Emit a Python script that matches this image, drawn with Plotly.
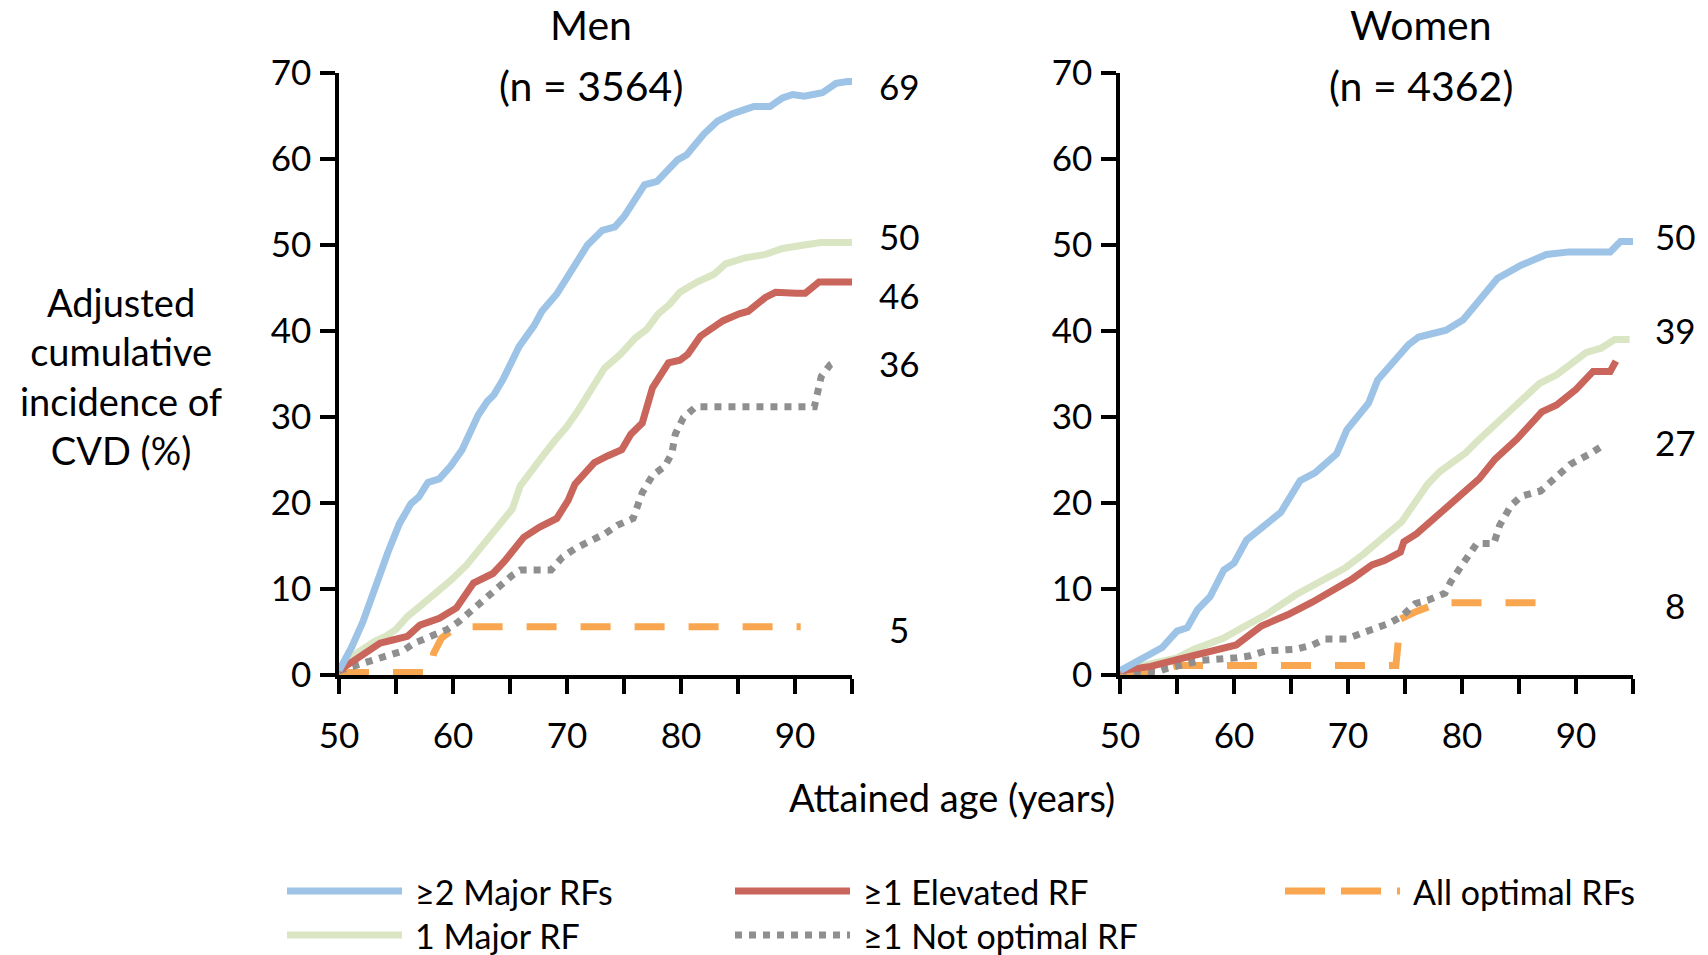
import plotly.graph_objects as go

# ---------------- data ----------------
series_names = ["≥2 Major RFs", "1 Major RF", "≥1 Elevated RF", "≥1 Not optimal RF", "All optimal RFs"]

men_blue_x = [50.0, 51.1, 52.1, 53.1, 54.3, 55.3, 56.3, 57.0, 57.8, 58.8, 59.8, 60.8, 61.5, 62.2, 63.0, 63.6, 64.4, 65.1, 65.8, 67.1, 67.8, 69.1, 70.3, 71.8, 73.1, 74.2, 75.0, 76.0, 76.8, 77.9, 78.5, 79.7, 80.5, 82.0, 83.2, 84.4, 85.7, 86.4, 87.8, 88.9, 89.8, 90.8, 92.4, 93.6, 94.6, 95.0]
men_blue_y = [0.5, 3.2, 6.2, 10.1, 14.3, 17.6, 19.9, 20.7, 22.4, 22.8, 24.3, 26.2, 28.2, 30.2, 31.8, 32.6, 34.4, 36.3, 38.2, 40.6, 42.3, 44.3, 46.8, 50.0, 51.7, 52.1, 53.3, 55.2, 57.0, 57.4, 58.2, 59.9, 60.5, 62.9, 64.4, 65.2, 65.8, 66.1, 66.1, 67.1, 67.5, 67.3, 67.7, 68.8, 69.0, 69.0]

men_green_x = [50.0, 51.4, 53.1, 54.1, 55.0, 56.0, 57.1, 58.5, 59.8, 61.2, 62.5, 63.9, 65.2, 65.9, 67.2, 67.9, 68.9, 70.0, 71.0, 72.0, 73.3, 74.7, 76.0, 77.0, 78.0, 79.0, 79.9, 81.4, 82.9, 83.9, 85.6, 87.4, 88.9, 90.8, 92.3, 95.0]
men_green_y = [0.5, 2.4, 3.9, 4.5, 5.3, 6.8, 8.0, 9.5, 11.0, 12.8, 14.9, 17.0, 19.3, 22.0, 24.1, 25.5, 27.2, 28.9, 30.8, 32.8, 35.7, 37.3, 39.2, 40.2, 42.0, 43.1, 44.5, 45.7, 46.6, 47.8, 48.5, 48.9, 49.6, 50.0, 50.3, 50.3]

men_red_x = [50.0, 51.8, 53.6, 54.8, 56.0, 57.1, 58.2, 58.8, 60.3, 61.2, 61.8, 63.5, 64.5, 66.2, 67.6, 69.1, 70.1, 70.7, 72.4, 73.6, 74.8, 75.6, 76.6, 77.5, 78.2, 78.9, 79.9, 80.6, 81.7, 82.6, 83.7, 85.1, 85.9, 87.4, 88.3, 90.1, 90.9, 92.1, 95.0]
men_red_y = [0.5, 2.2, 3.7, 4.1, 4.5, 5.8, 6.4, 6.6, 7.8, 9.7, 10.7, 11.8, 13.2, 16.0, 17.2, 18.2, 20.3, 22.2, 24.7, 25.5, 26.2, 28.0, 29.3, 33.4, 34.7, 36.3, 36.6, 37.3, 39.4, 40.2, 41.2, 42.0, 42.3, 43.9, 44.5, 44.4, 44.4, 45.7, 45.7]

men_gray_x = [50.0, 51.8, 53.1, 54.5, 55.6, 56.6, 58.2, 59.5, 60.5, 61.7, 62.9, 64.0, 65.2, 65.9, 68.6, 69.6, 70.7, 71.9, 73.3, 74.4, 75.8, 76.6, 77.5, 78.6, 79.2, 79.5, 80.2, 81.3, 91.7, 92.3, 93.1, 93.6]
men_gray_y = [0.5, 1.2, 1.8, 2.2, 2.8, 3.7, 4.7, 5.3, 6.2, 7.6, 8.9, 10.1, 11.6, 12.2, 12.2, 13.7, 14.7, 15.5, 16.4, 17.4, 18.2, 21.2, 23.2, 24.3, 25.8, 28.0, 29.9, 31.2, 31.2, 34.7, 36.1, 36.5]

men_orange_x = [50.0, 58.0, 58.3, 59.0, 60.0, 61.0, 90.5]
men_orange_y = [0.3, 0.3, 2.5, 4.3, 5.3, 5.6, 5.6]

women_blue_x = [50.0, 52.0, 53.7, 55.0, 55.9, 56.8, 57.9, 59.1, 60.0, 61.1, 62.4, 64.1, 65.8, 67.1, 69.0, 69.9, 71.8, 72.6, 75.3, 76.2, 78.6, 80.1, 81.6, 83.1, 85.1, 87.4, 89.4, 93.0, 93.9, 95.0]
women_blue_y = [0.5, 2.0, 3.2, 5.1, 5.5, 7.6, 9.1, 12.2, 13.0, 15.7, 17.2, 18.9, 22.6, 23.5, 25.7, 28.5, 31.6, 34.3, 38.4, 39.3, 40.1, 41.3, 43.7, 46.1, 47.6, 48.9, 49.2, 49.2, 50.4, 50.4]

women_green_x = [50.0, 52.4, 55.0, 56.5, 59.1, 60.7, 62.8, 65.4, 67.1, 69.7, 71.4, 72.9, 74.7, 75.9, 77.0, 78.1, 79.0, 80.3, 81.2, 82.4, 84.6, 86.8, 88.3, 90.9, 92.2, 93.4, 94.7]
women_green_y = [0.5, 1.2, 2.0, 3.0, 4.3, 5.5, 7.0, 9.3, 10.5, 12.4, 14.1, 15.8, 17.8, 20.1, 22.2, 23.7, 24.5, 25.8, 27.0, 28.5, 31.2, 33.9, 34.9, 37.5, 38.0, 39.0, 39.0]

women_red_x = [50.0, 52.7, 55.0, 57.2, 60.2, 62.4, 64.7, 66.9, 68.8, 70.4, 72.1, 73.2, 74.6, 74.9, 76.0, 77.9, 80.0, 81.5, 82.9, 84.8, 87.0, 88.3, 90.0, 91.5, 93.0, 93.5]
women_red_y = [0.5, 1.0, 1.8, 2.6, 3.5, 5.7, 7.0, 8.5, 9.9, 11.2, 12.8, 13.3, 14.3, 15.5, 16.4, 18.7, 21.0, 22.8, 25.1, 27.4, 30.6, 31.4, 33.2, 35.3, 35.3, 36.5]

women_gray_x = [50.0, 53.1, 54.2, 55.3, 57.2, 60.2, 61.3, 62.8, 65.4, 66.9, 68.0, 69.9, 70.8, 72.1, 73.6, 74.7, 75.9, 77.0, 78.5, 79.0, 80.0, 80.7, 81.3, 82.8, 83.3, 84.3, 85.2, 86.9, 88.2, 89.5, 91.2, 92.5]
women_gray_y = [0.5, 0.3, 0.8, 1.2, 1.7, 2.0, 2.2, 2.8, 3.0, 3.5, 4.2, 4.2, 4.7, 5.3, 6.0, 6.8, 8.3, 8.7, 9.5, 10.8, 12.8, 14.1, 15.3, 15.3, 17.4, 19.7, 20.8, 21.4, 23.0, 24.5, 25.7, 26.8]

women_orange_x = [50.0, 53.0, 55.0, 74.2, 74.6, 76.0, 78.0, 88.3]
women_orange_y = [0.2, 0.3, 1.1, 1.1, 6.5, 7.4, 8.4, 8.4]

men_end_labels = ["69", "50", "46", "36", "5"]
men_end_label_y = [68.5, 51.0, 44.2, 36.3, 5.4]
women_end_labels = ["50", "39", "27", "8"]
women_end_label_y = [51.1, 40.1, 27.1, 8.1]

x_tickvals = [50, 55, 60, 65, 70, 75, 80, 85, 90, 95]
x_ticktext = ["50", "", "60", "", "70", "", "80", "", "90", ""]
y_tickvals = [0, 10, 20, 30, 40, 50, 60, 70]

panel_titles = ["Men", "Women"]
panel_counts = ["(n = 3564)", "(n = 4362)"]
y_title = "Adjusted<br>cumulative<br>incidence of<br>CVD (%)"
x_title = "Attained age (years)"

# ---------------- style ----------------
FONT = "Lato"
W, H = 1708, 955
colors = ["#9DC3E6", "#D9E5C3", "#C9655B", "#8F8F8F", "#F9A650"]
LW = 7
dashes = ["solid", "solid", "solid", "dot", "30px,24px"]

fig = go.Figure()

men_series = [(men_blue_x, men_blue_y), (men_green_x, men_green_y), (men_red_x, men_red_y),
              (men_gray_x, men_gray_y), (men_orange_x, men_orange_y)]
women_series = [(women_blue_x, women_blue_y), (women_green_x, women_green_y), (women_red_x, women_red_y),
                (women_gray_x, women_gray_y), (women_orange_x, women_orange_y)]

# draw order: orange, gray, green, red, blue (blue on top)
order = [4, 3, 1, 2, 0]
for axes, series in (("x", men_series), ("x2", women_series)):
    for i in order:
        xs, ys = series[i]
        fig.add_trace(go.Scatter(
            x=xs, y=ys, mode="lines", name=series_names[i], showlegend=False,
            xaxis=axes, yaxis="y" if axes == "x" else "y2",
            line=dict(color=colors[i], width=LW, dash=dashes[i]),
            hoverinfo="skip"))

def px_x(p):
    return p / W

def px_y(p):
    return 1 - p / H

axis_common = dict(showgrid=False, zeroline=False, showline=True, linecolor="black", linewidth=3.5,
                   ticks="outside", ticklen=15, tickwidth=3.5, tickcolor="black", automargin=False,
                   tickfont=dict(family=FONT, size=35, color="black"))

x_dom1 = [px_x(339), px_x(852)]
x_dom2 = [px_x(1120), px_x(1633)]
y_dom = [px_y(675), px_y(73)]

fig.update_layout(
    template="none",
    width=W, height=H, margin=dict(l=0, r=0, t=0, b=0, pad=0),
    paper_bgcolor="white", plot_bgcolor="white", showlegend=False,
    xaxis=dict(domain=x_dom1, range=[50, 95], anchor="y", tickmode="array",
               tickvals=x_tickvals, ticktext=x_ticktext, ticklabelstandoff=12, **axis_common),
    yaxis=dict(domain=y_dom, range=[0, 70], anchor="x", tickmode="array", tickvals=y_tickvals,
               ticklabelstandoff=2, **axis_common),
    xaxis2=dict(domain=x_dom2, range=[50, 95], anchor="y2", tickmode="array",
                tickvals=x_tickvals, ticktext=x_ticktext, ticklabelstandoff=12, **axis_common),
    yaxis2=dict(domain=y_dom, range=[0, 70], anchor="x2", tickmode="array", tickvals=y_tickvals,
                ticklabelstandoff=2, **axis_common),
)

annotations = []
# panel titles
for title, count, cx in zip(panel_titles, panel_counts, [591, 1421]):
    annotations.append(dict(text=title, x=px_x(cx), y=px_y(24), xref="paper", yref="paper",
                            showarrow=False, xanchor="center", yanchor="middle",
                            font=dict(family=FONT, size=41, color="black")))
    annotations.append(dict(text=count, x=px_x(cx), y=px_y(85), xref="paper", yref="paper",
                            showarrow=False, xanchor="center", yanchor="middle",
                            font=dict(family=FONT, size=41, color="black")))
# end labels
for txt, yv in zip(men_end_labels, men_end_label_y):
    annotations.append(dict(text=txt, x=1.092, y=yv, xref="x domain", yref="y", showarrow=False,
                            xanchor="center", yanchor="middle",
                            font=dict(family=FONT, size=35, color="black")))
for txt, yv in zip(women_end_labels, women_end_label_y):
    annotations.append(dict(text=txt, x=1.082, y=yv, xref="x2 domain", yref="y2", showarrow=False,
                            xanchor="center", yanchor="middle",
                            font=dict(family=FONT, size=35, color="black")))
# axis titles
annotations.append(dict(text=y_title, x=px_x(121), y=px_y(376), xref="paper", yref="paper",
                        showarrow=False, xanchor="center", yanchor="middle", align="center",
                        font=dict(family=FONT, size=38, color="black")))
annotations.append(dict(text=x_title, x=px_x(952), y=px_y(797), xref="paper", yref="paper",
                        showarrow=False, xanchor="center", yanchor="middle",
                        font=dict(family=FONT, size=38, color="black")))

# custom legend
legend_pos = [(287, 891), (287, 935), (735, 891), (735, 935), (1285, 891)]
legend_dash = ["solid", "solid", "solid", "dot", "40px,16px"]
shapes = []
for i, (lx, ly) in enumerate(legend_pos):
    shapes.append(dict(type="line", xref="paper", yref="paper",
                       x0=px_x(lx), x1=px_x(lx + 115), y0=px_y(ly), y1=px_y(ly),
                       line=dict(color=colors[i], width=LW, dash=legend_dash[i])))
    annotations.append(dict(text=series_names[i], x=px_x(lx + 126), y=px_y(ly), xref="paper", yref="paper",
                            showarrow=False, xanchor="left", yanchor="middle",
                            font=dict(family=FONT, size=34, color="black")))

fig.update_layout(annotations=annotations, shapes=shapes)
fig.write_html("out.html")
